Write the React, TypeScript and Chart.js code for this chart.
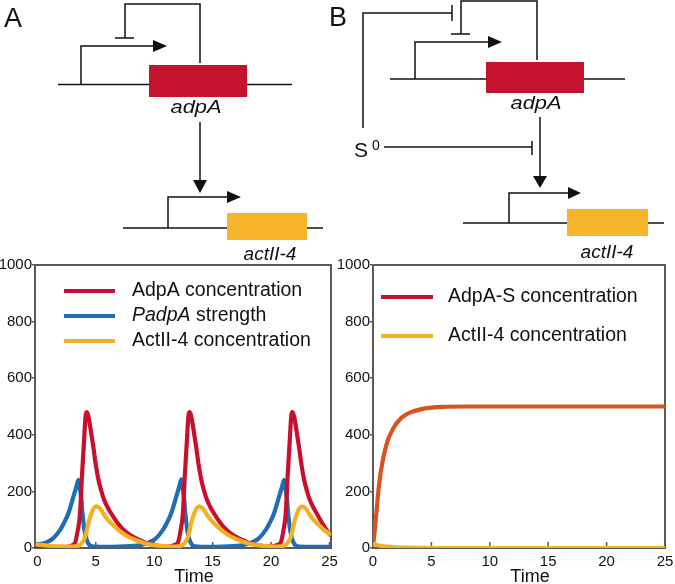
import React, { useEffect, useRef } from 'react';
import { Chart, registerables } from 'chart.js';

Chart.register(...registerables);

const FONT = '"Liberation Sans", Arial, Helvetica, sans-serif';
const AXIS = '#5a5a5a';
const RED = '#c8102e';
const BLUE = '#1f6db5';
const YELLOW = '#f2b124';
const ORANGE = '#d9531e';

// ---- Panel A data ----
const xTicks = [0, 5, 10, 15, 20, 25];
const yTicks = [0, 200, 400, 600, 800, 1000];

const adpaT = [0, 1, 2, 2.7, 3.0, 3.23, 3.45, 3.66, 3.8, 3.97, 4.14, 4.23, 4.35, 4.5, 4.65, 4.8, 5.0, 5.23, 5.45, 5.7, 6.0, 6.23, 6.8, 7.33, 8.0, 8.63, 9.2, 9.7, 10.3, 11.0, 11.5, 11.8, 12.03, 12.25, 12.46, 12.6, 12.77, 12.94, 13.03, 13.15, 13.3, 13.45, 13.6, 13.8, 14.03, 14.25, 14.5, 14.8, 15.03, 15.6, 16.13, 16.8, 17.43, 18.0, 18.5, 19.1, 19.8, 20.3, 20.6, 20.83, 21.05, 21.26, 21.4, 21.57, 21.74, 21.83, 21.95, 22.1, 22.25, 22.4, 22.6, 22.83, 23.05, 23.3, 23.6, 23.83, 24.4, 25];
const adpaV = [5, 3, 3, 5, 10, 19, 60, 124, 241, 358, 470, 480, 468, 435, 395, 355, 295, 241, 205, 172, 145, 128, 92, 66, 44, 30, 20, 13, 8, 5, 7, 12, 19, 60, 124, 241, 358, 470, 480, 468, 435, 395, 355, 295, 241, 205, 172, 145, 128, 92, 66, 44, 30, 20, 13, 8, 5, 7, 12, 19, 60, 124, 241, 358, 470, 480, 468, 435, 395, 355, 295, 241, 205, 172, 145, 128, 86, 48];

const padpaT = [0, 0.67, 1.3, 1.95, 2.3, 2.66, 3.09, 3.35, 3.52, 3.62, 3.74, 3.86, 4.03, 4.23, 4.5, 4.9, 6, 7, 8, 8.8, 9.47, 10.1, 10.75, 11.1, 11.46, 11.89, 12.15, 12.32, 12.42, 12.54, 12.66, 12.83, 13.03, 13.3, 13.7, 14.8, 15.8, 16.8, 17.6, 18.27, 18.9, 19.55, 19.9, 20.26, 20.69, 20.95, 21.12, 21.22, 21.34, 21.46, 21.63, 21.83, 22.1, 22.5, 23.5, 25];
const padpaV = [12, 18, 32, 64, 90, 123, 182, 218, 241, 215, 182, 124, 64, 29, 9, 5, 4, 5, 7, 10, 18, 32, 64, 90, 123, 182, 218, 243, 215, 182, 124, 64, 29, 9, 5, 4, 5, 7, 10, 18, 32, 64, 90, 123, 182, 218, 241, 215, 182, 124, 64, 29, 9, 5, 4, 4];

const act4T = [0, 0.5, 1, 2, 3, 3.5, 3.8, 4.1, 4.37, 4.7, 5.03, 5.4, 5.8, 6.3, 6.93, 7.6, 8.36, 9.2, 10, 11, 11.8, 12.3, 12.6, 12.9, 13.17, 13.5, 13.83, 14.2, 14.6, 15.1, 15.73, 16.4, 17.16, 18.0, 18.8, 19.8, 20.6, 21.1, 21.4, 21.7, 21.97, 22.3, 22.63, 23.0, 23.4, 23.9, 24.53, 25];
const act4V = [12, 10, 8, 6, 5, 8, 17, 40, 88, 130, 147, 138, 111, 88, 64, 44, 29, 17, 10, 6, 5, 8, 17, 40, 88, 130, 147, 138, 111, 88, 64, 44, 29, 17, 10, 6, 5, 8, 17, 40, 88, 130, 147, 138, 111, 88, 64, 50];

const seriesALabels = ['AdpA concentration', 'PadpA strength', 'ActII-4 concentration'];
const seriesAItalic = ['', 'PadpA', ''];

// ---- Panel B data ----
const adpaST = [0, 0.1, 0.24, 0.53, 0.85, 1.24, 1.6, 1.95, 2.3, 2.67, 3.2, 4.06, 5, 6, 8, 12, 16, 20, 25];
const adpaSV = [10, 42, 102, 228, 312, 378, 412, 437, 454, 467, 479, 490, 496, 499, 500, 500, 500, 500, 500];
const act4BT = [0, 0.5, 1, 1.5, 2, 3, 5, 10, 15, 20, 25];
const act4BV = [14, 9, 6, 4, 2, 1, 0, 0, 0, 0, 0];

const seriesBLabels = ['AdpA-S concentration', 'ActII-4 concentration'];

type Series = {
  label: string;
  italic: string;
  t: number[];
  v: number[];
  color: string;
  legendColor: string;
  order: number;
};

type LegendLayout = { x0: number; x1: number; tx: number; y0: number; dy: number; size: number };

type PanelProps = {
  left: number;
  top: number;
  width: number;
  height: number;
  yWidth: number;
  padRight: number;
  xMin: number;
  xMax: number;
  series: Series[];
  legend: LegendLayout;
  xTitle: string;
};

function Panel(props: PanelProps) {
  const ref = useRef<HTMLCanvasElement | null>(null);
  useEffect(() => {
    if (!ref.current) return;
    const { series, legend, xTitle } = props;
    const framePlugin = {
      id: 'frameAndLegend',
      beforeDatasetsDraw(chart: any) {
        const { ctx, chartArea: a } = chart;
        ctx.save();
        ctx.strokeStyle = AXIS;
        ctx.lineWidth = 2;
        ctx.strokeRect(a.left, a.top, a.right - a.left, a.bottom - a.top);
        const xs = chart.scales.x;
        ctx.lineWidth = 1.5;
        xs.ticks.forEach((t: any) => {
          const px = xs.getPixelForValue(t.value);
          ctx.beginPath();
          ctx.moveTo(px, a.bottom);
          ctx.lineTo(px, a.bottom - 6);
          ctx.stroke();
        });
        ctx.restore();
      },
      afterDraw(chart: any) {
        const { ctx, chartArea: a } = chart;
        ctx.save();
        series.forEach((s, i) => {
          const y = a.top + legend.y0 + i * legend.dy;
          ctx.strokeStyle = s.legendColor;
          ctx.lineWidth = 4;
          ctx.beginPath();
          ctx.moveTo(a.left + legend.x0, y);
          ctx.lineTo(a.left + legend.x1, y);
          ctx.stroke();
          ctx.fillStyle = '#111';
          ctx.textBaseline = 'middle';
          ctx.textAlign = 'left';
          let x = a.left + legend.tx;
          let rest = s.label;
          if (s.italic) {
            ctx.font = `italic ${legend.size}px ${FONT}`;
            ctx.fillText(s.italic, x, y);
            x += ctx.measureText(s.italic).width;
            rest = s.label.slice(s.italic.length);
          }
          ctx.font = `${legend.size}px ${FONT}`;
          ctx.fillText(rest, x, y);
        });
        ctx.font = `18px ${FONT}`;
        ctx.textAlign = 'center';
        ctx.textBaseline = 'alphabetic';
        ctx.fillStyle = '#111';
        ctx.fillText(xTitle, (a.left + a.right) / 2 + 11, a.bottom + 34);
        ctx.restore();
      },
    };

    const chart = new Chart(ref.current, {
      type: 'line',
      data: {
        datasets: series.map((s) => ({
          label: s.label,
          data: s.t.map((t, i) => ({ x: t, y: s.v[i] })),
          borderColor: s.color,
          backgroundColor: s.color,
          borderWidth: 4.2,
          pointRadius: 0,
          fill: false,
          cubicInterpolationMode: 'monotone',
          borderCapStyle: 'round',
          borderJoinStyle: 'round',
          order: s.order,
        })),
      },
      options: {
        responsive: false,
        animation: false,
        events: [],
        layout: { padding: { left: 0, right: props.padRight, top: 15, bottom: 0 } },
        plugins: {
          legend: { display: false },
          tooltip: { enabled: false },
          title: { display: false },
        },
        scales: {
          x: {
            type: 'linear',
            min: props.xMin,
            max: props.xMax,
            afterBuildTicks: (s: any) => {
              s.ticks = xTicks.map((v) => ({ value: v }));
            },
            afterFit: (s: any) => {
              s.height = 36;
              s.paddingLeft = 0;
              s.paddingRight = 0;
            },
            grid: { display: false, drawTicks: false },
            border: { display: false },
            ticks: {
              color: '#111',
              font: { family: FONT, size: 15 },
              padding: 5,
              maxRotation: 0,
              autoSkip: false,
              callback: (v: any) => String(v),
            },
          },
          y: {
            type: 'linear',
            min: 0,
            max: 1000,
            afterBuildTicks: (s: any) => {
              s.ticks = yTicks.map((v) => ({ value: v }));
            },
            afterFit: (s: any) => {
              s.width = props.yWidth;
              s.paddingTop = 0;
              s.paddingBottom = 0;
            },
            grid: { display: true, drawOnChartArea: false, drawTicks: true, tickLength: 3, color: AXIS, lineWidth: 1.5 },
            border: { display: false },
            ticks: {
              color: '#111',
              font: { family: FONT, size: 15 },
              padding: 0,
              autoSkip: false,
              callback: (v: any) => String(v),
            },
          },
        },
      } as any,
      plugins: [framePlugin],
    } as any);
    return () => chart.destroy();
  }, []);
  return (
    <canvas
      ref={ref}
      width={props.width}
      height={props.height}
      style={{ position: 'absolute', left: props.left, top: props.top, width: props.width, height: props.height, display: 'block' }}
    />
  );
}

function Diagrams() {
  const st = { stroke: '#111', strokeWidth: 1.5, fill: 'none' } as any;
  const itText = { fontFamily: FONT, fontStyle: 'italic', fontSize: 18, fill: '#111' } as any;
  return (
    <svg width={675} height={584} style={{ position: 'absolute', left: 0, top: 0, pointerEvents: 'none' }}>
      {/* Panel labels */}
      <text x={4} y={27} fontFamily={FONT} fontSize={27} fill="#111">A</text>
      <text x={329} y={26} fontFamily={FONT} fontSize={27} fill="#111">B</text>

      {/* ---- A ---- */}
      <path d="M200,63 V4 H125 V38" {...st} />
      <path d="M115,38 H134" {...st} />
      <path d="M81,84 V46 H154" {...st} />
      <polygon points="153,40 167,46 153,52" fill="#111" />
      <path d="M58,84.5 H292" {...st} />
      <rect x={149} y={65} width={98} height={32} fill="#c4122f" />
      <text x={196} y={113} textAnchor="middle" {...itText} textLength={51} lengthAdjust="spacingAndGlyphs">adpA</text>
      <path d="M200,122 V181" {...st} />
      <polygon points="193,180 207,180 200,193" fill="#111" />
      <path d="M168,228 V197 H228" {...st} />
      <polygon points="227,191 241,197 227,203" fill="#111" />
      <path d="M123,228 H323" {...st} />
      <rect x={227} y={213} width={80} height={27} fill="#f6b42c" />
      <text x={270} y={260} textAnchor="middle" {...itText} fontSize={19}>actII-4</text>

      {/* ---- B ---- */}
      <path d="M363,128 V13 H452" {...st} />
      <path d="M452,5 V21" {...st} />
      <path d="M537,60 V1 H461 V34" {...st} />
      <path d="M451,34 H470" {...st} />
      <path d="M415,79 V42 H489" {...st} />
      <polygon points="488,36 502,42 488,48" fill="#111" />
      <path d="M390,79 H625" {...st} />
      <rect x={486} y={62} width={98} height={31} fill="#c4122f" />
      <text x={536} y={109} textAnchor="middle" {...itText} textLength={51} lengthAdjust="spacingAndGlyphs">adpA</text>
      <path d="M540,117 V177" {...st} />
      <polygon points="533,176 547,176 540,188" fill="#111" />
      <text x={354} y={157} fontFamily={FONT} fontSize={21} fill="#111">S</text>
      <text x={372} y={150} fontFamily={FONT} fontSize={14} fill="#111">0</text>
      <path d="M384,147 H532" {...st} />
      <path d="M532,141 V155" {...st} />
      <path d="M509,223 V193 H569" {...st} />
      <polygon points="568,187 581,193 568,199" fill="#111" />
      <path d="M463,223 H664" {...st} />
      <rect x={567} y={209} width={81} height={27} fill="#f6b42c" />
      <text x={607} y={258} textAnchor="middle" {...itText} fontSize={19}>actII-4</text>
    </svg>
  );
}

export default function App() {
  const seriesA: Series[] = [
    { label: seriesALabels[0], italic: seriesAItalic[0], t: adpaT, v: adpaV, color: RED, legendColor: RED, order: 1 },
    { label: seriesALabels[1], italic: seriesAItalic[1], t: padpaT, v: padpaV, color: BLUE, legendColor: BLUE, order: 2 },
    { label: seriesALabels[2], italic: seriesAItalic[2], t: act4T, v: act4V, color: YELLOW, legendColor: YELLOW, order: 0 },
  ];
  const seriesB: Series[] = [
    { label: seriesBLabels[0], italic: '', t: adpaST, v: adpaSV, color: ORANGE, legendColor: RED, order: 1 },
    { label: seriesBLabels[1], italic: '', t: act4BT, v: act4BV, color: YELLOW, legendColor: YELLOW, order: 0 },
  ];
  return (
    <div style={{ position: 'absolute', left: 0, top: 0, width: 675, height: 584, background: '#fff', overflow: 'hidden' }}>
      <Panel
        left={0}
        top={250}
        width={337}
        height={334}
        yWidth={35}
        padRight={6}
        xMin={-0.2}
        xMax={25.13}
        series={seriesA}
        legend={{ x0: 29, x1: 80, tx: 97, y0: 26, dy: 25, size: 19.5 }}
        xTitle="Time"
      />
      <Panel
        left={337}
        top={250}
        width={338}
        height={334}
        yWidth={36}
        padRight={10}
        xMin={0}
        xMax={25}
        series={seriesB}
        legend={{ x0: 8, x1: 60, tx: 75, y0: 32, dy: 39, size: 19.5 }}
        xTitle="Time"
      />
      <Diagrams />
    </div>
  );
}
